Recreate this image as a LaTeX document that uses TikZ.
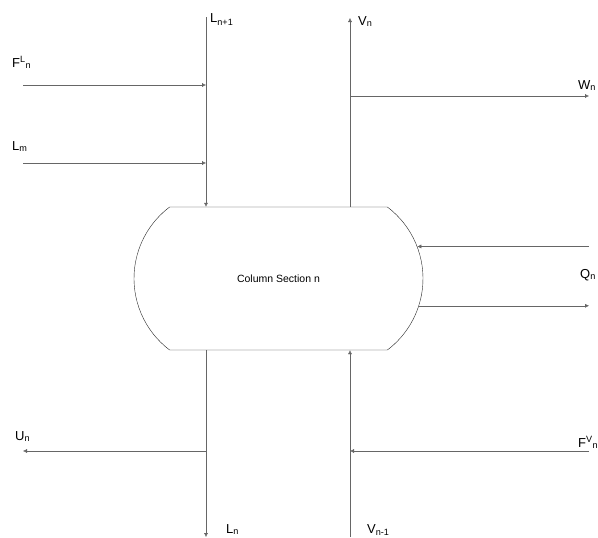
\documentclass[tikz,border=0pt]{standalone}
\usepackage{fontspec}
\setmainfont{Liberation Sans}
\usetikzlibrary{shapes.misc, arrows.meta, positioning}

\begin{document}
\begin{tikzpicture}[x=1pt, y=-1pt,
    section/.style={draw=black!85, rounded rectangle, rounded rectangle arc length=106,
                    minimum width=289pt, minimum height=143pt, inner sep=0pt,
                    font=\fontsize{10.5}{12}\selectfont},
    flow/.style={draw=black!60, -{Latex[length=4pt,width=4pt]}},
    lbl/.style={anchor=base west, inner sep=0pt, font=\fontsize{13}{15}\selectfont}
]
    \useasboundingbox (0,0) rectangle (598,538);

    % Column section
    \node[section] (sec) at (278.5,278.5) {Column Section n};

    % Free ends of the streams
    \coordinate (ltop) at (206,17);
    \coordinate (vtop) at (350,18);
    \coordinate (lbot) at (206,537);
    \coordinate (vbot) at (350,537);
    \coordinate (fl) at (23,85);
    \coordinate (lm) at (23,163);
    \coordinate (wn) at (589,96);
    \coordinate (qn) at (589,0);
    \coordinate (un) at (23,451);
    \coordinate (fv) at (589,451);

    % Liquid from above and side feeds
    \draw[flow] (ltop) -- (ltop |- sec.north);
    \draw[flow] (fl) -- (fl -| ltop);
    \draw[flow] (lm) -- (lm -| ltop);

    % Vapour leaving at the top, side draw
    \draw[flow] (sec.north -| vtop) -- (vtop);
    \draw[flow] (wn -| vtop) -- (wn);

    % Heat duty
    \draw[flow] (qn |- sec.13) -- (sec.13);
    \draw[flow] (sec.-11) -- (qn |- sec.-11);

    % Liquid leaving at the bottom, side draw
    \draw[flow] (sec.south -| lbot) -- (lbot);
    \draw[flow] (un -| lbot) -- (un);

    % Vapour from below and vapour feed
    \draw[flow] (vbot) -- (vbot |- sec.south);
    \draw[flow] (fv) -- (fv -| vbot);

    % Stream labels
    \node[lbl] (lnp) at (210,23) {L\textsubscript{n+1}};
    \node[lbl] (vn) at (358,25) {V\textsubscript{n}};
    \node[lbl] (fln) at (12,67) {F\textsuperscript{L}\textsubscript{n}};
    \node[lbl] (lmm) at (12,150) {L\textsubscript{m}};
    \node[lbl] (wnn) at (578,89) {W\textsubscript{n}};
    \node[lbl] (qnn) at (580,278) {Q\textsubscript{n}};
    \node[lbl] (unn) at (15,440) {U\textsubscript{n}};
    \node[lbl] (fvn) at (578,447) {F\textsuperscript{V}\textsubscript{n}};
    \node[lbl] (ln) at (226,533) {L\textsubscript{n}};
    \node[lbl] (vnm) at (367,533) {V\textsubscript{n-1}};
\end{tikzpicture}
\end{document}
